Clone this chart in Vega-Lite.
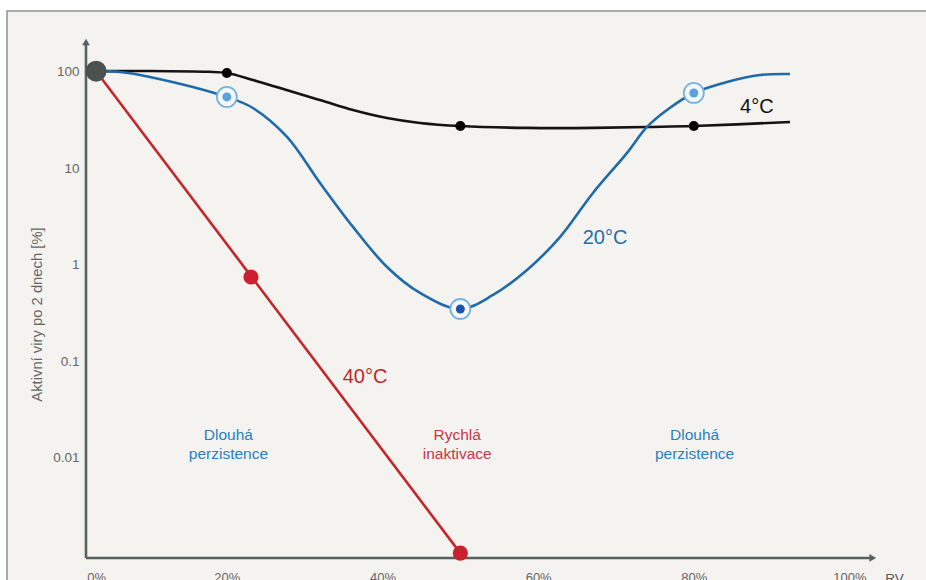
{
  "$schema": "https://vega.github.io/schema/vega-lite/v6.json",
  "width": 921,
  "height": 571,
  "autosize": {"type": "none"},
  "padding": {"left": 7, "top": 11, "right": 0, "bottom": 0},
  "background": "#ffffff",
  "config": {
    "view": {"fill": "#f5f3ef", "stroke": "#8f9397", "strokeWidth": 1.5},
    "font": "Liberation Sans",
    "axis": {"labelFont": "Liberation Sans", "titleFont": "Liberation Sans"}
  },
  "encoding": {
    "x": {
      "field": "x",
      "type": "quantitative",
      "scale": {"domain": [-8.249, 110.09], "nice": false, "zero": false},
      "axis": {
        "orient": "bottom",
        "offset": -24,
        "domain": false,
        "ticks": false,
        "grid": false,
        "values": [3.2, 20, 40, 60, 80, 100],
        "labelExpr": "datum.value < 10 ? '0%' : datum.value + '%'",
        "labelPadding": 13,
        "labelBaseline": "top",
        "labelFontSize": 13,
        "labelColor": "#666666",
        "title": "RV",
        "titleX": 887,
        "titleY": 13,
        "titleBaseline": "top",
        "titleAlign": "center",
        "titleFontSize": 13.5,
        "titleFontWeight": "normal",
        "titleColor": "#555555"
      }
    },
    "y": {
      "field": "y",
      "type": "quantitative",
      "scale": {"type": "log", "domain": [0.000512, 429.3], "nice": false},
      "axis": {
        "orient": "left",
        "offset": -79,
        "domain": false,
        "ticks": false,
        "grid": false,
        "values": [0.01, 0.1, 1, 10, 100],
        "format": "~g",
        "labelPadding": 7,
        "labelFontSize": 13.5,
        "labelColor": "#666666",
        "title": "Aktivní viry po 2 dnech [%]",
        "titleX": -49,
        "titleY": 303,
        "titleAngle": -90,
        "titleAlign": "center",
        "titleBaseline": "middle",
        "titleFontSize": 14.8,
        "titleFontWeight": "normal",
        "titleColor": "#666666"
      }
    }
  },
  "layer": [
    {
      "data": {"values": [{"x": 20}, {"x": 50}, {"x": 80}]},
      "mark": {"type": "rule", "color": "#d2d0cc", "strokeWidth": 1},
      "encoding": {"y": {"datum": 146.6}, "y2": {"datum": 0.000909}}
    },
    {
      "data": {"values": [{"x": 20, "t": "20%"}, {"x": 50, "t": "50%"}, {"x": 80, "t": "80%"}]},
      "mark": {"type": "text", "fontSize": 13, "color": "#666666", "baseline": "middle"},
      "encoding": {"y": {"datum": 181.7}, "text": {"field": "t"}}
    },
    {
      "data": {"values": [
        {"x": 1.9, "x2": 1.9, "y": 0.000909, "y2": 204.7},
        {"x": 1.9, "x2": 103.0, "y": 0.000909, "y2": 0.000909}
      ]},
      "mark": {"type": "rule", "color": "#56625f", "strokeWidth": 2.6},
      "encoding": {"x2": {"field": "x2"}, "y2": {"field": "y2"}}
    },
    {
      "data": {"values": [
        {"x": 1.9, "y": 204.7, "s": "triangle-up"},
        {"x": 103.0, "y": 0.000909, "s": "triangle-right"}
      ]},
      "mark": {"type": "point", "filled": true, "color": "#56625f", "size": 60, "opacity": 1},
      "encoding": {"shape": {"field": "s", "type": "nominal", "scale": null}}
    },
    {
      "data": {"values": [
        {"series": "40°C", "x": 3.2, "y": 102},
        {"series": "40°C", "x": 50, "y": 0.00102},
        {"series": "4°C", "x": 3.2, "y": 102},
        {"series": "4°C", "x": 10.1, "y": 102.5},
        {"series": "4°C", "x": 17.6, "y": 100.5},
        {"series": "4°C", "x": 20, "y": 97.6},
        {"series": "4°C", "x": 23.35, "y": 82.6},
        {"series": "4°C", "x": 31.97, "y": 51.2},
        {"series": "4°C", "x": 36.21, "y": 40.4},
        {"series": "4°C", "x": 40.58, "y": 33.3},
        {"series": "4°C", "x": 44.82, "y": 29.6},
        {"series": "4°C", "x": 50, "y": 27.5},
        {"series": "4°C", "x": 58.57, "y": 26.3},
        {"series": "4°C", "x": 67.04, "y": 26.3},
        {"series": "4°C", "x": 73.98, "y": 26.9},
        {"series": "4°C", "x": 80, "y": 27.5},
        {"series": "4°C", "x": 92.36, "y": 30.3},
        {"series": "20°C", "x": 3.2, "y": 102},
        {"series": "20°C", "x": 6.27, "y": 100},
        {"series": "20°C", "x": 10.1, "y": 88.8},
        {"series": "20°C", "x": 20, "y": 55.1},
        {"series": "20°C", "x": 23.35, "y": 42.3},
        {"series": "20°C", "x": 27.73, "y": 21.2},
        {"series": "20°C", "x": 31.97, "y": 7.06},
        {"series": "20°C", "x": 36.21, "y": 2.47},
        {"series": "20°C", "x": 40.58, "y": 0.949},
        {"series": "20°C", "x": 44.82, "y": 0.51},
        {"series": "20°C", "x": 50, "y": 0.348},
        {"series": "20°C", "x": 54.2, "y": 0.486},
        {"series": "20°C", "x": 58.57, "y": 0.883},
        {"series": "20°C", "x": 62.8, "y": 1.94},
        {"series": "20°C", "x": 67.04, "y": 5.56},
        {"series": "20°C", "x": 71.4, "y": 14.4},
        {"series": "20°C", "x": 73.98, "y": 26.9},
        {"series": "20°C", "x": 76.55, "y": 40.4},
        {"series": "20°C", "x": 80, "y": 60.6},
        {"series": "20°C", "x": 84.26, "y": 78.8},
        {"series": "20°C", "x": 88.5, "y": 93.1},
        {"series": "20°C", "x": 92.36, "y": 95.3}
      ]},
      "mark": {"type": "line", "interpolate": "catmull-rom", "strokeWidth": 2.6},
      "encoding": {
        "color": {
          "field": "series",
          "type": "nominal",
          "scale": {"domain": ["40°C", "4°C", "20°C"], "range": ["#c1272d", "#141414", "#1f6aa8"]},
          "legend": null
        },
        "order": {"field": "x", "type": "quantitative"}
      }
    },
    {
      "data": {"values": [{"x": 20, "y": 97.6}, {"x": 50, "y": 27.5}, {"x": 80, "y": 27.5}]},
      "mark": {"type": "point", "shape": "circle", "filled": true, "color": "#000000", "size": 100, "opacity": 1}
    },
    {
      "data": {"values": [{"x": 20, "y": 55.1, "k": "light"}, {"x": 50, "y": 0.348, "k": "dark"}, {"x": 80, "y": 60.6, "k": "light"}]},
      "mark": {"type": "point", "shape": "circle", "filled": true, "fill": "#f4f8fc", "stroke": "#78b2e2", "strokeWidth": 1.8, "size": 400, "opacity": 1}
    },
    {
      "data": {"values": [{"x": 20, "y": 55.1, "k": "light"}, {"x": 50, "y": 0.348, "k": "dark"}, {"x": 80, "y": 60.6, "k": "light"}]},
      "mark": {"type": "point", "shape": "circle", "filled": true, "size": 80, "opacity": 1},
      "encoding": {
        "color": {"field": "k", "type": "nominal", "scale": {"domain": ["light", "dark"], "range": ["#5aa2dc", "#1d55a6"]}, "legend": null}
      }
    },
    {
      "data": {"values": [{"x": 23.1, "y": 0.747}, {"x": 50, "y": 0.00102}]},
      "mark": {"type": "point", "shape": "circle", "filled": true, "color": "#cc1f2f", "size": 230, "opacity": 1}
    },
    {
      "data": {"values": [{"x": 3.2, "y": 102}]},
      "mark": {"type": "point", "shape": "circle", "filled": true, "color": "#4b514e", "size": 440, "opacity": 1}
    },
    {
      "data": {"values": [
        {"x": 88.1, "y": 43.4, "t": "4°C", "c": "a"},
        {"x": 68.6, "y": 1.897, "t": "20°C", "c": "b"},
        {"x": 37.75, "y": 0.0685, "t": "40°C", "c": "c"}
      ]},
      "mark": {"type": "text", "fontSize": 20, "baseline": "middle", "align": "center"},
      "encoding": {
        "text": {"field": "t"},
        "color": {"field": "c", "type": "nominal", "scale": {"domain": ["a", "b", "c"], "range": ["#111111", "#1f6fad", "#c1272d"]}, "legend": null}
      }
    },
    {
      "data": {"values": [
        {"x": 20.2, "y": 0.01716, "t": "Dlouhá\nperzistence", "c": "b"},
        {"x": 80.1, "y": 0.01716, "t": "Dlouhá\nperzistence", "c": "b"},
        {"x": 49.6, "y": 0.01716, "t": "Rychlá\ninaktivace", "c": "r"}
      ]},
      "mark": {"type": "text", "fontSize": 15.5, "lineHeight": 19, "lineBreak": "\n", "baseline": "middle", "align": "center"},
      "encoding": {
        "text": {"field": "t"},
        "color": {"field": "c", "type": "nominal", "scale": {"domain": ["b", "r"], "range": ["#2a7fbf", "#c8364a"]}, "legend": null}
      }
    }
  ],
  "resolve": {"scale": {"color": "independent"}}
}
